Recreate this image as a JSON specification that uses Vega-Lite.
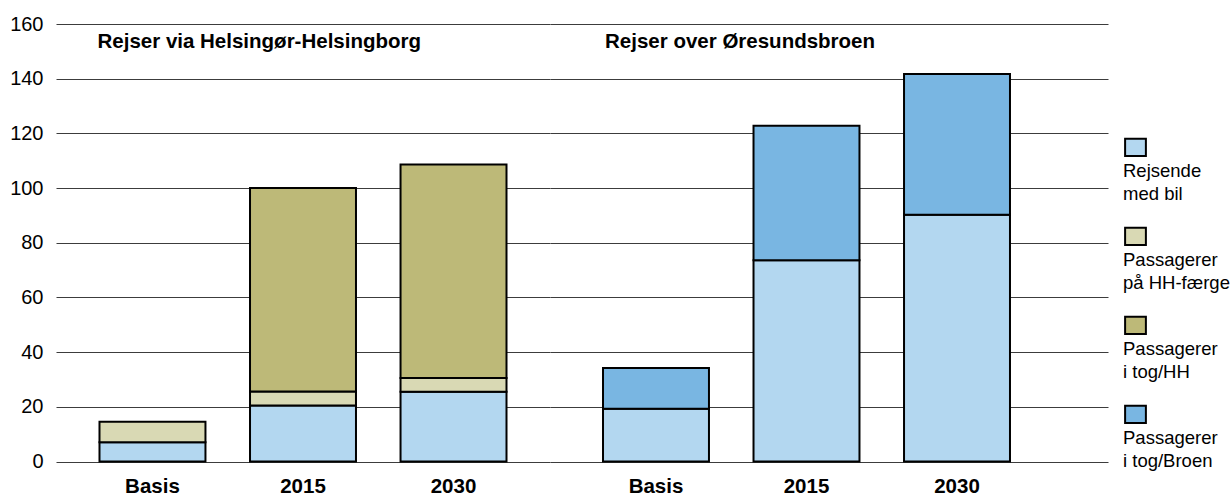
{
  "$schema": "https://vega.github.io/schema/vega-lite/v6.json",
  "background": "white",
  "padding": {"left": 0, "top": 14, "right": 0, "bottom": 0},
  "spacing": 0,
  "config": {
    "view": {"stroke": null},
    "font": "Liberation Sans",
    "axis": {"labelColor": "black", "gridColor": "#3c3c3c", "gridWidth": 1, "gridOpacity": 1, "ticks": false, "tickSize": 0, "domain": false, "title": null}
  },
  "datasets": {
    "bars": [
      {"gruppe": "HH", "aar": "Basis", "serie": "Rejsende med bil", "vaerdi": 7},
      {"gruppe": "HH", "aar": "Basis", "serie": "Passagerer på HH-færge", "vaerdi": 7.5},
      {"gruppe": "HH", "aar": "2015", "serie": "Rejsende med bil", "vaerdi": 20.5},
      {"gruppe": "HH", "aar": "2015", "serie": "Passagerer på HH-færge", "vaerdi": 5.1},
      {"gruppe": "HH", "aar": "2015", "serie": "Passagerer i tog/HH", "vaerdi": 74.4},
      {"gruppe": "HH", "aar": "2030", "serie": "Rejsende med bil", "vaerdi": 25.5},
      {"gruppe": "HH", "aar": "2030", "serie": "Passagerer på HH-færge", "vaerdi": 5},
      {"gruppe": "HH", "aar": "2030", "serie": "Passagerer i tog/HH", "vaerdi": 78.1},
      {"gruppe": "Broen", "aar": "Basis", "serie": "Rejsende med bil", "vaerdi": 19.3},
      {"gruppe": "Broen", "aar": "Basis", "serie": "Passagerer i tog/Broen", "vaerdi": 14.9},
      {"gruppe": "Broen", "aar": "2015", "serie": "Rejsende med bil", "vaerdi": 73.6},
      {"gruppe": "Broen", "aar": "2015", "serie": "Passagerer i tog/Broen", "vaerdi": 49.2},
      {"gruppe": "Broen", "aar": "2030", "serie": "Rejsende med bil", "vaerdi": 90.2},
      {"gruppe": "Broen", "aar": "2030", "serie": "Passagerer i tog/Broen", "vaerdi": 51.5}
    ],
    "titler": [
      {"gruppe": "HH", "aar": "Basis", "tekst": "Rejser via Helsingør-Helsingborg"},
      {"gruppe": "Broen", "aar": "Basis", "tekst": "Rejser over Øresundsbroen"}
    ],
    "forklaring": [
      {"serie": "Rejsende med bil", "label": "Rejsende\nmed bil"},
      {"serie": "Passagerer på HH-færge", "label": "Passagerer\npå HH-færge"},
      {"serie": "Passagerer i tog/HH", "label": "Passagerer\ni tog/HH"},
      {"serie": "Passagerer i tog/Broen", "label": "Passagerer\ni tog/Broen"}
    ]
  },
  "resolve": {"scale": {"x": "independent", "y": "independent", "color": "shared"}},
  "hconcat": [
    {
      "width": 494,
      "height": 437.5,
      "layer": [
        {
          "data": {"name": "bars"},
          "transform": [{"filter": "datum.gruppe == 'HH'"}],
          "mark": {"type": "bar", "stroke": "black", "strokeWidth": 2},
          "encoding": {
            "x": {"field": "aar", "type": "nominal", "sort": ["Basis", "2015", "2030"],
              "scale": {"paddingInner": 0.296, "paddingOuter": 0.289},
              "axis": {"labelAngle": 0, "labelFontSize": 20.5, "labelFontWeight": "bold", "labelPadding": 15}},
            "y": {"field": "vaerdi", "type": "quantitative", "stack": "zero",
              "scale": {"domain": [0, 160], "nice": false},
              "axis": {"values": [0, 20, 40, 60, 80, 100, 120, 140, 160], "grid": true, "labelFontSize": 20, "labelPadding": 13, "minExtent": 56, "maxExtent": 56}},
            "color": {"field": "serie", "type": "nominal",
              "scale": {"domain": ["Rejsende med bil", "Passagerer på HH-færge", "Passagerer i tog/HH", "Passagerer i tog/Broen"], "range": ["#B3D7F0", "#D9D9B4", "#BDB978", "#79B6E2"]},
              "legend": null},
            "order": {"field": "serie", "sort": "descending"}
          }
        },
        {
          "data": {"name": "titler"},
          "transform": [{"filter": "datum.gruppe == 'HH'"}],
          "mark": {"type": "text", "align": "left", "baseline": "middle", "fontWeight": "bold", "fontSize": 20.5, "dx": -2},
          "encoding": {
            "x": {"field": "aar", "type": "nominal", "sort": ["Basis", "2015", "2030"], "bandPosition": 0},
            "y": {"datum": 153.5, "type": "quantitative"},
            "text": {"field": "tekst"}
          }
        }
      ]
    },
    {
      "width": 558,
      "height": 437.5,
      "layer": [
        {
          "data": {"name": "bars"},
          "transform": [{"filter": "datum.gruppe == 'Broen'"}],
          "mark": {"type": "bar", "stroke": "black", "strokeWidth": 2},
          "encoding": {
            "x": {"field": "aar", "type": "nominal", "sort": ["Basis", "2015", "2030"],
              "scale": {"paddingInner": 0.296, "paddingOuter": 0.5017, "align": 0.351},
              "axis": {"labelAngle": 0, "labelFontSize": 20.5, "labelFontWeight": "bold", "labelPadding": 15}},
            "y": {"field": "vaerdi", "type": "quantitative", "stack": "zero",
              "scale": {"domain": [0, 160], "nice": false},
              "axis": {"values": [0, 20, 40, 60, 80, 100, 120, 140, 160], "grid": true, "labels": false, "minExtent": 0, "maxExtent": 0}},
            "color": {"field": "serie", "type": "nominal", "legend": null},
            "order": {"field": "serie", "sort": "descending"}
          }
        },
        {
          "data": {"name": "titler"},
          "transform": [{"filter": "datum.gruppe == 'Broen'"}],
          "mark": {"type": "text", "align": "left", "baseline": "middle", "fontWeight": "bold", "fontSize": 20.5, "dx": 2},
          "encoding": {
            "x": {"field": "aar", "type": "nominal", "sort": ["Basis", "2015", "2030"], "bandPosition": 0},
            "y": {"datum": 153.5, "type": "quantitative"},
            "text": {"field": "tekst"}
          }
        }
      ]
    },
    {
      "width": 55,
      "height": 437.5,
      "data": {"name": "forklaring"},
      "layer": [
        {
          "mark": {"type": "point", "filled": true, "shape": "M-1.2,-1H1.2V1H-1.2Z", "size": 300, "stroke": "black", "strokeWidth": 2, "opacity": 1},
          "encoding": {
            "y": {"field": "serie", "type": "nominal", "sort": ["Rejsende med bil", "Passagerer på HH-færge", "Passagerer i tog/HH", "Passagerer i tog/Broen"],
              "scale": {"type": "point", "padding": 0.958, "align": 0.724}, "axis": null},
            "color": {"field": "serie", "type": "nominal", "legend": null}
          }
        },
        {
          "mark": {"type": "text", "align": "left", "baseline": "alphabetic", "dx": -12.5, "dy": 29.5, "fontSize": 18.5, "lineBreak": "\n", "lineHeight": 23.5},
          "encoding": {
            "y": {"field": "serie", "type": "nominal", "sort": ["Rejsende med bil", "Passagerer på HH-færge", "Passagerer i tog/HH", "Passagerer i tog/Broen"],
              "scale": {"type": "point", "padding": 0.958, "align": 0.724}, "axis": null},
            "text": {"field": "label"}
          }
        }
      ]
    }
  ]
}
